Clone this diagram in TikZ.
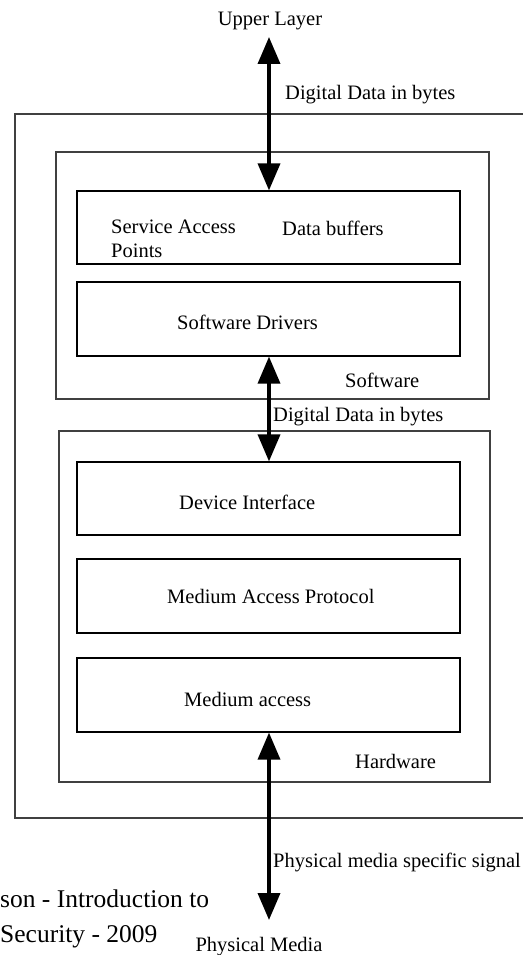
\documentclass[tikz,border=0pt]{standalone}
\usepackage{fontspec}
\setmainfont{Liberation Serif}
\usetikzlibrary{arrows.meta}
\begin{document}
\begin{tikzpicture}[x=1pt,y=-1pt,
  lbl/.style={inner sep=0pt,font=\fontsize{20.5}{24}\selectfont,text=black},
  foot/.style={inner sep=0pt,font=\fontsize{25.5}{30}\selectfont,text=black},
  layerbox/.style={draw=black,line width=1.2pt,inner sep=0pt},
  frame/.style={draw=black!75,line width=1.5pt,inner sep=0pt},
  dbl/.style={line width=3.6pt,{Triangle[width=22pt,length=27pt]}-{Triangle[width=22pt,length=27pt]}},
  ]
\useasboundingbox (0,0) rectangle (522,955);
% outer frame (extends past right edge)
\draw[frame] (15,114) rectangle (540,818);
\node[frame,minimum width=433pt,minimum height=247pt] (sw) at (272.5,275.5) {};
\node[frame,minimum width=431pt,minimum height=351pt] (hw) at (274.5,606.5) {};
% inner boxes
\node[layerbox,minimum width=383pt,minimum height=73pt] (b1) at (268.5,227.5) {};
\node[layerbox,minimum width=383pt,minimum height=74pt] (b2) at (268.5,319) {};
\node[layerbox,minimum width=383pt,minimum height=73pt] (b3) at (268.5,498.5) {};
\node[layerbox,minimum width=383pt,minimum height=74pt] (b4) at (268.5,596) {};
\node[layerbox,minimum width=383pt,minimum height=74pt] (b5) at (268.5,695) {};
% labels
\node[lbl,anchor=base west] (sap1) at (111,233) {Service Access};
\node[lbl,anchor=base west] (sap2) at (111,257) {Points};
\node[lbl,anchor=base west] (db) at (282,235) {Data buffers};
\node[lbl,anchor=base west] (sd) at (177,329) {Software Drivers};
\node[lbl,anchor=base west] (swl) at (345,387) {Software};
\node[lbl,anchor=base west] (di) at (179,509) {Device Interface};
\node[lbl,anchor=base west] (map) at (167,603) {Medium Access Protocol};
\node[lbl,anchor=base west] (ma) at (184,706) {Medium access};
\node[lbl,anchor=base west] (hwl) at (355,768) {Hardware};
\node[lbl,anchor=base] (ul) at (270,26) {Upper Layer};
\node[lbl,anchor=base west] (dd1) at (285,100) {Digital Data in bytes};
\node[lbl,anchor=base west] (dd2) at (273,421) {Digital Data in bytes};
\node[lbl,anchor=base west] (pms) at (273,867) {Physical media specific signal};
\node[lbl,anchor=base] (pm) at (259,951) {Physical Media};
\node[foot,anchor=base west] (f1) at (0,907) {son - Introduction to};
\node[foot,anchor=base west] (f2) at (0,942) {Security - 2009};
% arrows
\coordinate (a1t) at (269,37);
\coordinate (a1b) at (b1.north -| a1t);
\coordinate (a2t) at (b2.south -| a1t);
\coordinate (a2b) at (b3.north -| a1t);
\coordinate (a3t) at (b5.south -| a1t);
\coordinate (a3b) at (269,920);
\draw[dbl] (a1t) -- (a1b);
\draw[dbl] (a2t) -- (a2b);
\draw[dbl] (a3t) -- (a3b);
\end{tikzpicture}
\end{document}
